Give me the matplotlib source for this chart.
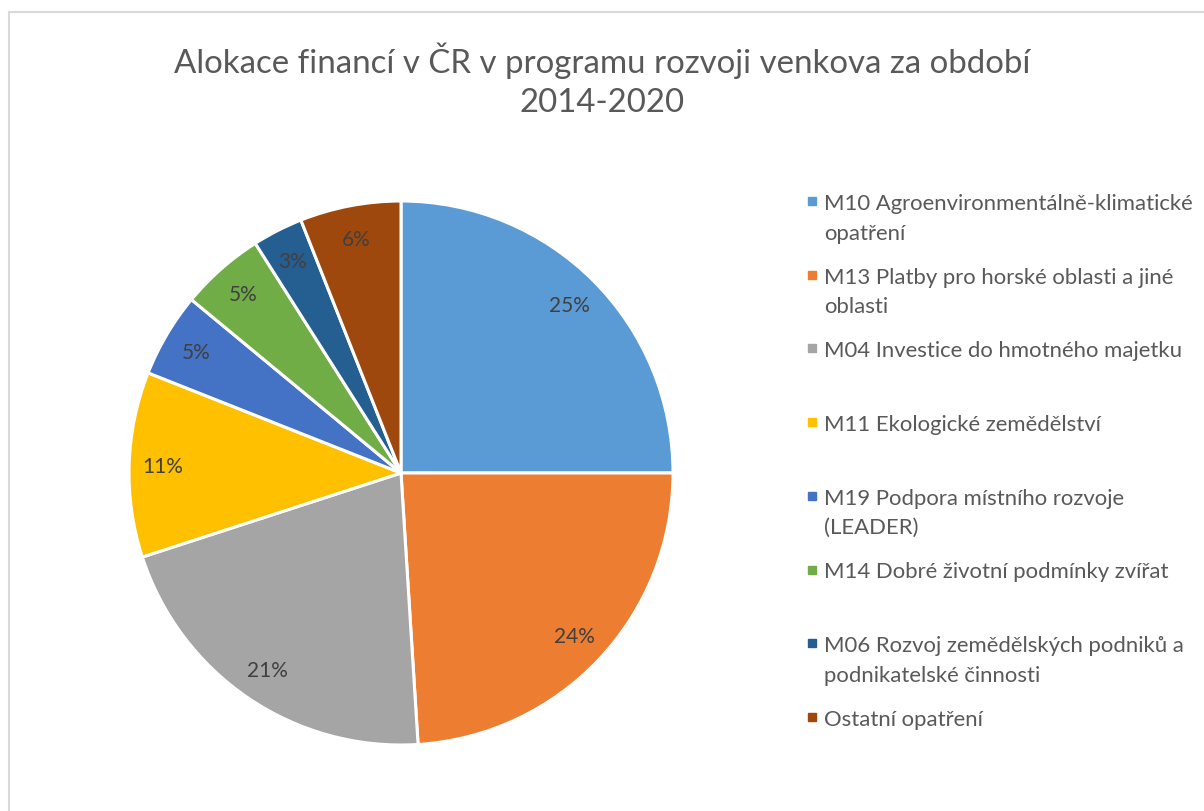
import matplotlib.pyplot as plt
from matplotlib.lines import Line2D

plt.rcParams["font.family"] = ["Lato", "DejaVu Sans"]

title = "Alokace financí v ČR v programu rozvoji venkova za období\n2014-2020"
labels = [
    "M10 Agroenvironmentálně-klimatické\nopatření",
    "M13 Platby pro horské oblasti a jiné\noblasti",
    "M04 Investice do hmotného majetku",
    "M11 Ekologické zemědělství",
    "M19 Podpora místního rozvoje\n(LEADER)",
    "M14 Dobré životní podmínky zvířat",
    "M06 Rozvoj zemědělských podniků a\npodnikatelské činnosti",
    "Ostatní opatření",
]
shares = [25, 24, 21, 11, 5, 5, 3, 6]
colors = ["#5B9BD5", "#ED7D31", "#A5A5A5", "#FFC000",
          "#4472C4", "#70AD47", "#255E91", "#9E480E"]

W, H = 1204, 812
fig = plt.figure(figsize=(W / 100, H / 100), dpi=100)

# chart-area border (only top/left visible in the crop)
fig.add_artist(Line2D([9 / W, 9 / W], [0, 1 - 13 / H], color="#D9D9D9", lw=1.5))
fig.add_artist(Line2D([9 / W, 1], [1 - 13 / H, 1 - 13 / H], color="#D9D9D9", lw=1.5))

fig.text(0.5, 1 - 80 / H, title, ha="center", va="center", fontsize=23.8,
         color="#595959", linespacing=1.36)

cx, cy, r = 401, 474, 272
ax = fig.add_axes([(cx - r) / W, (H - cy - r) / H, 2 * r / W, 2 * r / H])
ax.pie(shares, colors=colors, startangle=90, counterclock=False,
       autopct="%.0f%%", pctdistance=0.875,
       wedgeprops=dict(edgecolor="white", linewidth=2.2),
       textprops=dict(color="#404040", fontsize=15))
ax.set_xlim(-1, 1)
ax.set_ylim(-1, 1)
ax.set_aspect("equal")
ax.axis("off")

# legend, evenly spaced slots like Excel
y0, step, line_h = 202, 73.7, 29.5
for i, (lab, c) in enumerate(zip(labels, colors)):
    y = y0 + i * step
    fig.add_artist(Line2D([812 / W], [1 - y / H], marker="s", markersize=6,
                          color=c, transform=fig.transFigure))
    for k, part in enumerate(lab.split("\n")):
        fig.text(824 / W, 1 - (y + 8 + k * line_h) / H, part, ha="left",
                 va="baseline", fontsize=15.9, color="#595959")

fig.savefig("out.png", dpi=100)
